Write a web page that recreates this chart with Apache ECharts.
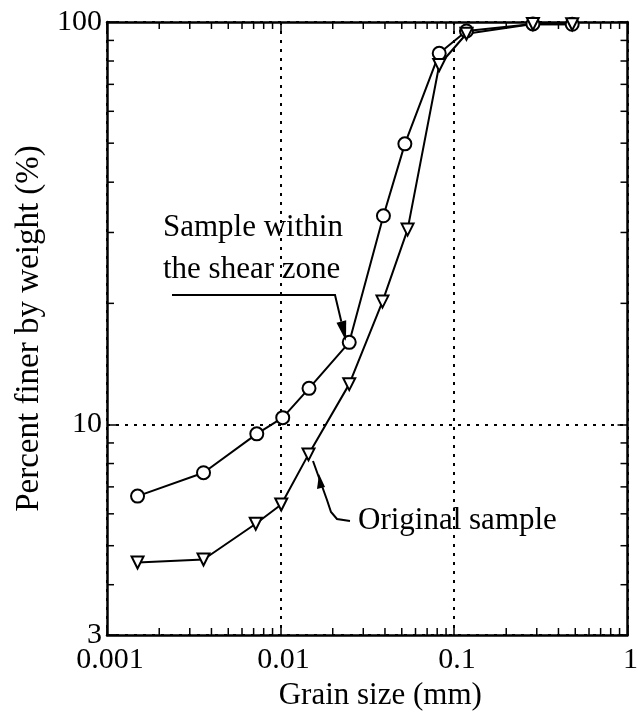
<!DOCTYPE html>
<html><head><meta charset="utf-8">
<script src="https://cdn.jsdelivr.net/npm/echarts@6/dist/echarts.min.js"></script>
<style>html,body{margin:0;padding:0;background:#fff}#c{width:641px;height:718px}</style>
</head><body><div id="c"></div>
<script>
// Sample within the shear zone (open circles)
const shearX = [0.0015, 0.0036, 0.0073, 0.0103, 0.0146, 0.0249, 0.0392, 0.0521, 0.0822, 0.118, 0.285, 0.48];
const shearY = [6.64, 7.59, 9.48, 10.4, 12.3, 16.0, 33.0, 49.8, 83.6, 95.0, 98.9, 98.7];
// Original sample (open down-triangles)
const origX = [0.0015, 0.0036, 0.0072, 0.0101, 0.0145, 0.0249, 0.0387, 0.054, 0.0822, 0.118, 0.285, 0.48];
const origY = [4.54, 4.62, 5.67, 6.33, 8.43, 12.6, 20.2, 30.5, 78.2, 93.5, 98.9, 98.7];
// axis labels and minor ticks
const xTickLabels = [0.001, 0.01, 0.1, 1];
const yTickLabels = [3, 10, 100];
const xMinorTicks = [0.002, 0.003, 0.004, 0.005, 0.006, 0.007, 0.008, 0.009,
                     0.02, 0.03, 0.04, 0.05, 0.06, 0.07, 0.08, 0.09,
                     0.2, 0.3, 0.4, 0.5, 0.6, 0.7, 0.8, 0.9];
const yMinorTicks = [4, 5, 6, 7, 8, 9, 20, 30, 40, 50, 60, 70, 80, 90];

const FONT = 'Liberation Serif';
const xMin = xTickLabels[0], xMax = xTickLabels[xTickLabels.length - 1];
const yMin = yTickLabels[0], yMax = yTickLabels[yTickLabels.length - 1];

const chart = echarts.init(document.getElementById('c'), null, {renderer: 'canvas'});

function fmt(v) { return String(+Number(v).toPrecision(6)); }

const axisLineStyle = {color: '#000', width: 2.5};
const gridStyle = {color: '#000', width: 2, type: [3, 6]};

function tickSeries(data, horizontal) {
  return {
    type: 'custom', silent: true, clip: false, z: 5,
    xAxisIndex: 0, yAxisIndex: 0,
    data: data,
    renderItem: function (params, api) {
      const L = 7;
      if (horizontal) {
        const v = api.value(0);
        const b = api.coord([v, yMin]);
        const t = api.coord([v, yMax]);
        return {type: 'group', children: [
          {type: 'line', shape: {x1: b[0], y1: b[1], x2: b[0], y2: b[1] - L}, style: {stroke: '#000', lineWidth: 1.5}},
          {type: 'line', shape: {x1: t[0], y1: t[1], x2: t[0], y2: t[1] + L}, style: {stroke: '#000', lineWidth: 1.5}}
        ]};
      } else {
        const v = api.value(1);
        const l = api.coord([xMin, v]);
        const r = api.coord([xMax, v]);
        return {type: 'group', children: [
          {type: 'line', shape: {x1: l[0], y1: l[1], x2: l[0] + L, y2: l[1]}, style: {stroke: '#000', lineWidth: 1.5}},
          {type: 'line', shape: {x1: r[0], y1: r[1], x2: r[0] - L, y2: r[1]}, style: {stroke: '#000', lineWidth: 1.5}}
        ]};
      }
    }
  };
}

const option = {
  animation: false,
  backgroundColor: '#fff',
  grid: {left: 107, right: 3, top: 22, bottom: 83, containLabel: false},
  xAxis: [{
    type: 'log', logBase: 10, min: xMin, max: xMax, position: 'bottom',
    axisLine: {show: true, lineStyle: axisLineStyle},
    axisTick: {show: true, inside: true, length: 10, lineStyle: {color: '#000', width: 1.5}},
    axisLabel: {show: true, color: '#000', fontFamily: FONT, fontSize: 30, margin: 10, formatter: fmt,
                showMinLabel: true, showMaxLabel: true, padding: [0, 0, 0, 6]},
    splitLine: {show: true, lineStyle: gridStyle},
    name: 'Grain size (mm)', nameLocation: 'middle', nameGap: 42,
    nameTextStyle: {color: '#000', fontFamily: FONT, fontSize: 31, padding: [0, 0, 0, 26]}
  }, {
    type: 'log', logBase: 10, min: xMin, max: xMax, position: 'top',
    axisLine: {show: true, lineStyle: axisLineStyle},
    axisTick: {show: true, inside: true, length: 10, lineStyle: {color: '#000', width: 1.5}},
    axisLabel: {show: false}, splitLine: {show: false}
  }],
  yAxis: [{
    type: 'log', logBase: 10, min: yMin, max: yMax, position: 'left',
    axisLine: {show: true, lineStyle: axisLineStyle},
    axisTick: {show: true, inside: true, length: 10, lineStyle: {color: '#000', width: 1.5}},
    axisLabel: {show: true, color: '#000', fontFamily: FONT, fontSize: 30, margin: 5, formatter: fmt,
                showMinLabel: true, showMaxLabel: true},
    splitLine: {show: true, lineStyle: gridStyle},
    name: 'Percent finer by weight (%)', nameLocation: 'middle', nameGap: 60,
    nameTextStyle: {color: '#000', fontFamily: FONT, fontSize: 33}
  }, {
    type: 'log', logBase: 10, min: yMin, max: yMax, position: 'right',
    axisLine: {show: true, lineStyle: axisLineStyle},
    axisTick: {show: true, inside: true, length: 10, lineStyle: {color: '#000', width: 1.5}},
    axisLabel: {show: false}, splitLine: {show: false}
  }],
  series: [
    {
      name: 'Sample within the shear zone', type: 'line', z: 10,
      xAxisIndex: 0, yAxisIndex: 0,
      data: shearX.map((x, i) => [x, shearY[i]]),
      symbol: 'circle', symbolSize: 13,
      lineStyle: {color: '#000', width: 2},
      itemStyle: {color: '#fff', borderColor: '#000', borderWidth: 2}
    },
    {
      name: 'Original sample', type: 'line', z: 10,
      xAxisIndex: 0, yAxisIndex: 0,
      data: origX.map((x, i) => [x, origY[i]]),
      symbol: 'triangle', symbolRotate: 180, symbolSize: 12,
      lineStyle: {color: '#000', width: 2},
      itemStyle: {color: '#fff', borderColor: '#000', borderWidth: 2}
    },
    tickSeries(xMinorTicks.map(v => [v, yMin]), true),
    tickSeries(yMinorTicks.map(v => [xMin, v]), false)
  ],
  graphic: [
    {type: 'text', z: 20, style: {x: 163, y: 228, text: 'Sample within', font: '31px "Liberation Serif"', fill: '#000', verticalAlign: 'middle'}},
    {type: 'text', z: 20, style: {x: 163, y: 270, text: 'the shear zone', font: '31px "Liberation Serif"', fill: '#000', verticalAlign: 'middle'}},
    {type: 'text', z: 20, style: {x: 358, y: 521, text: 'Original sample', font: '31px "Liberation Serif"', fill: '#000', verticalAlign: 'middle'}},
    {type: 'polyline', z: 20, shape: {points: [[172, 295], [335, 295], [341.3, 321.5]]}, style: {stroke: '#000', lineWidth: 2, fill: null}},
    {type: 'polygon', z: 20, shape: {points: [[346, 341], [346.2, 320.3], [336.5, 322.7]]}, style: {fill: '#000'}},
    {type: 'polyline', z: 20, shape: {points: [[313, 461], [327, 500], [331, 512], [337, 519], [350, 521]]}, style: {stroke: '#000', lineWidth: 2, fill: null}},
    {type: 'polygon', z: 20, shape: {points: [[319, 474], [325, 487], [317, 489]]}, style: {fill: '#000'}}
  ]
};
chart.setOption(option);
</script></body></html>
